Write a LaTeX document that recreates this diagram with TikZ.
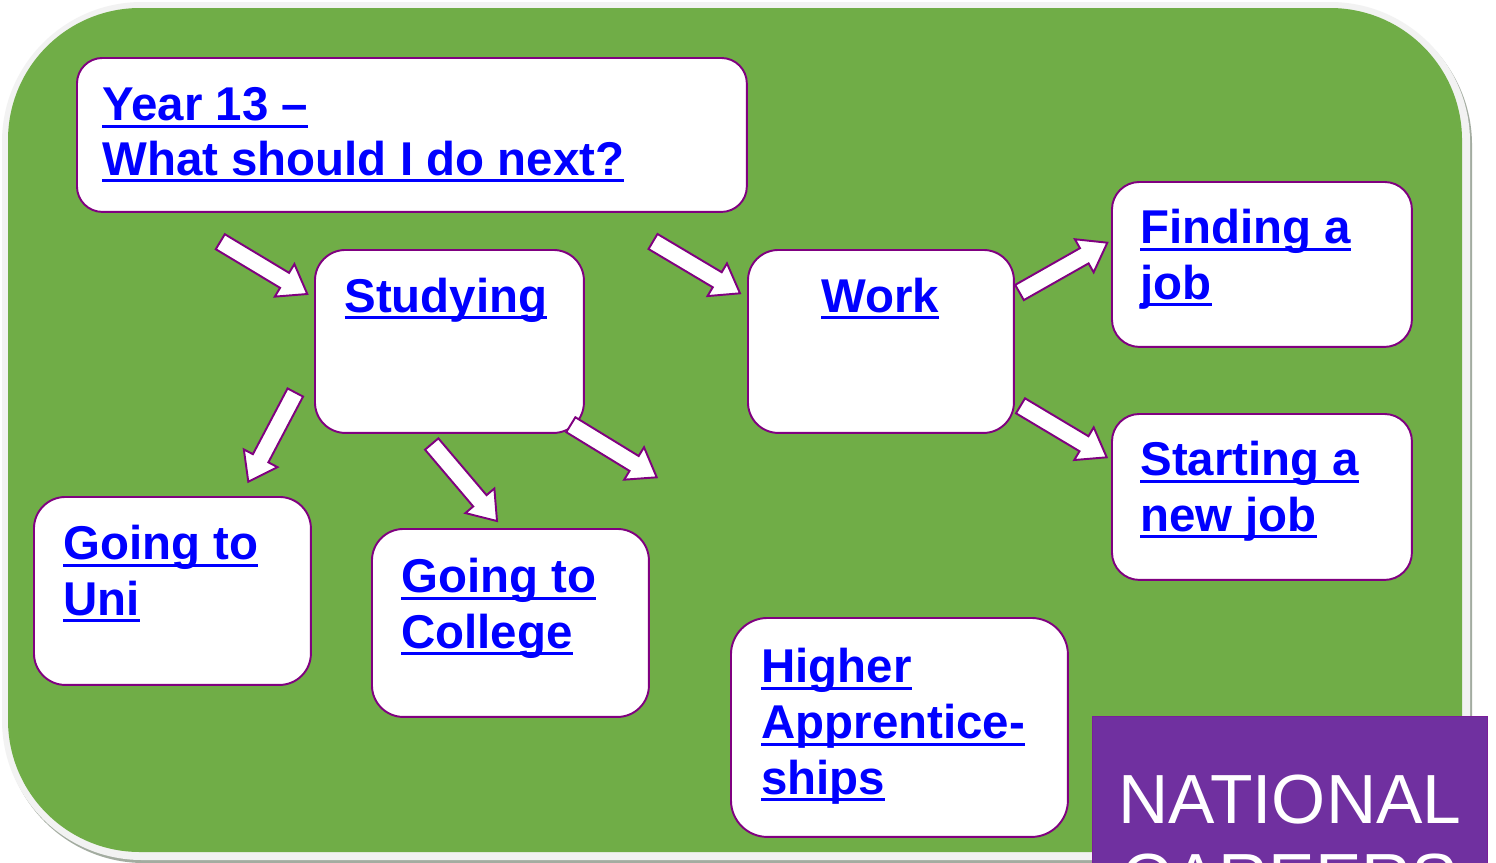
\documentclass[tikz,border=0pt]{standalone}
\usepackage{fontspec}
\setmainfont{Liberation Sans}
\usetikzlibrary{calc}
\definecolor{bggreen}{HTML}{70AD47}
\definecolor{framegray}{HTML}{F2F2F2}
\definecolor{shadowgray}{HTML}{A3ACA0}
\definecolor{boxpurple}{HTML}{800080}
\definecolor{ncpurple}{HTML}{7030A0}
\definecolor{ncborder}{HTML}{7A1E9A}
\definecolor{linkblue}{HTML}{0000FF}
\newcommand\ulx[1]{\setbox0=\hbox{#1}\rlap{\rule[-4.25pt]{\wd0}{1.7pt}}\box0}
\newcommand\barrow[2]{%
  \coordinate (hb) at ($(#2)!0.53cm!(#1)$);
  \draw[blockarrow] ($(#1)!0.175cm!90:(#2)$) -- ($(hb)!0.175cm!90:(#2)$) -- ($(hb)!0.38cm!90:(#2)$) -- (#2) -- ($(hb)!0.38cm!-90:(#2)$) -- ($(hb)!0.175cm!-90:(#2)$) -- ($(#1)!0.175cm!-90:(#2)$) -- cycle;}
\tikzset{
  box/.style={draw=boxpurple, line width=1.1pt, fill=white, anchor=north west, inner sep=0pt},
  lbl/.style={inner sep=0pt, align=left, text=linkblue, font={\fontsize{27pt}{31.6pt}\selectfont\bfseries}},
  blockarrow/.style={draw=boxpurple, line width=1.1pt, fill=white, line join=miter},
}
\begin{document}
\begin{tikzpicture}[x=0.02cm, y=-0.02cm]
\clip (0,0) rectangle (1496,862);
\useasboundingbox (0,0) rectangle (1496,862);
\fill[white] (0,0) rectangle (1496,862);
% background frame
\fill[shadowgray, rounded corners=2.8cm] (4,5) rectangle (1472,863);
\fill[framegray, rounded corners=2.8cm] (2,2) rectangle (1470,860);
\fill[bggreen, rounded corners=2.64cm] (8,8) rectangle (1462,852);
% boxes
\node[box, minimum width=13.4cm, minimum height=3.08cm, rounded corners=0.51cm] (year) at (76,57) {};
\node[box, minimum width=5.38cm, minimum height=3.66cm, rounded corners=0.61cm] (stud) at (314,249) {};
\node[box, minimum width=5.32cm, minimum height=3.66cm, rounded corners=0.61cm] (work) at (747,249) {};
\node[box, minimum width=6.0cm, minimum height=3.3cm, rounded corners=0.55cm] (find) at (1111,181) {};
\node[box, minimum width=6.0cm, minimum height=3.32cm, rounded corners=0.55cm] (start) at (1111,413) {};
\node[box, minimum width=5.54cm, minimum height=3.76cm, rounded corners=0.63cm] (uni) at (33,496) {};
\node[box, minimum width=5.54cm, minimum height=3.76cm, rounded corners=0.63cm] (coll) at (371,528) {};
\node[box, minimum width=6.74cm, minimum height=4.38cm, rounded corners=0.73cm] (high) at (730,617) {};
% labels (anchor = baseline of the last line)
\node[lbl, anchor=base west, font={\fontsize{27pt}{31.2pt}\selectfont\bfseries}] (yeart) at (102,175) {\ulx{Year 13 –}\\\ulx{What should I do next?}};
\node[lbl, anchor=base] (studt) at (446,312) {\ulx{Studying}};
\node[lbl, anchor=base] (workt) at (880,312) {\ulx{Work}};
\node[lbl, anchor=base west] (findt) at (1140,299) {\ulx{Finding a}\\\ulx{job}};
\node[lbl, anchor=base west] (startt) at (1140,531) {\ulx{Starting a}\\\ulx{new job}};
\node[lbl, anchor=base west] (unit) at (63,615) {\ulx{Going to}\\\ulx{Uni}};
\node[lbl, anchor=base west] (collt) at (401,648) {\ulx{Going to}\\\ulx{College}};
\node[lbl, anchor=base west] (hight) at (761,794) {\ulx{Higher}\\\ulx{Apprentice-}\\\ulx{ships}};
% arrow end points
\coordinate (a1s) at (220.3,241.7); \coordinate (a1e) at (307.3,294);
\coordinate (a2s) at (653,241.5);   \coordinate (a2e) at (740,293.3);
\coordinate (a3s) at (295.3,392.5); \coordinate (a3e) at (248.3,481.7);
\coordinate (a4s) at (431.7,444);   \coordinate (a4e) at (497,521);
\coordinate (a5s) at (570.8,424.7); \coordinate (a5e) at (656.7,477.3);
\coordinate (a6s) at (1019.5,292.5);\coordinate (a6e) at (1107.3,242.7);
\coordinate (a7s) at (1020.5,405.8);\coordinate (a7e) at (1106.7,457.3);
\barrow{a1s}{a1e}
\barrow{a2s}{a2e}
\barrow{a3s}{a3e}
\barrow{a4s}{a4e}
\barrow{a5s}{a5e}
\barrow{a6s}{a6e}
\barrow{a7s}{a7e}
% National Careers box
\node[draw=ncborder, line width=0.8pt, fill=ncpurple, anchor=north west, inner sep=0pt, minimum width=7.9cm, minimum height=4cm] (nc) at (1092,716) {};
\node[anchor=base, align=center, inner sep=0pt, text=white, font={\fontsize{39.6pt}{44.8pt}\selectfont}] (nct) at (1290,902) {NATIONAL\\CAREERS};
\end{tikzpicture}
\end{document}
